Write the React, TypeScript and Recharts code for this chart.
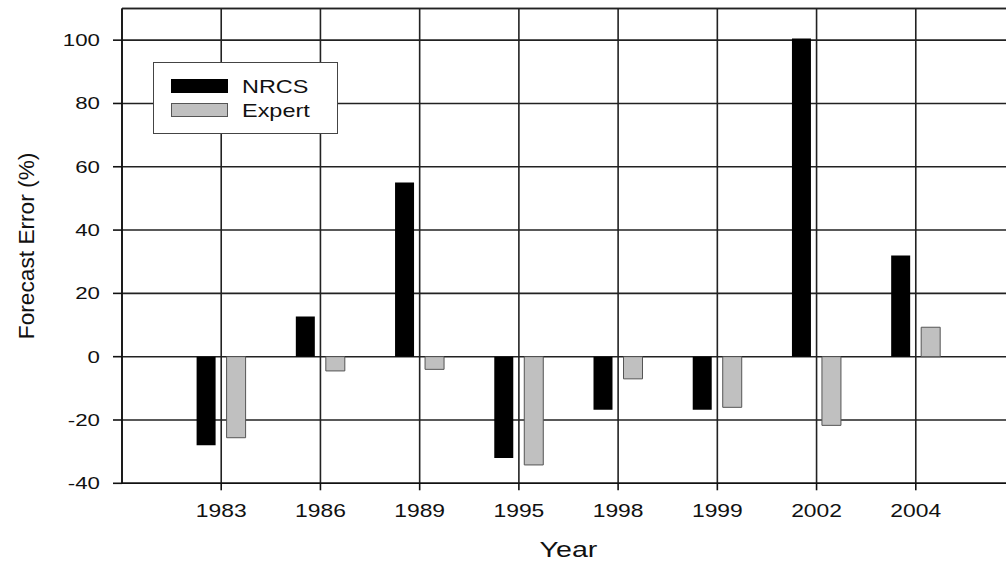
import React from 'react';
import {
  BarChart,
  Bar,
  XAxis,
  YAxis,
  CartesianGrid,
  ReferenceLine,
  Legend,
} from 'recharts';

const years = ['1983', '1986', '1989', '1995', '1998', '1999', '2002', '2004'];
const nrcsValues = [-28, 12.7, 55, -32, -16.8, -16.8, 100.5, 32];
const expertValues = [-25.6, -4.5, -4.0, -34.2, -7.0, -16.0, -21.7, 9.3];
const seriesNames = ['NRCS', 'Expert'];
const yTicks = [-40, -20, 0, 20, 40, 60, 80, 100];
const yDomain = [-40, 110];

const data = years.map((year, i) => ({
  year,
  NRCS: nrcsValues[i],
  Expert: expertValues[i],
}));

const FONT = '"Liberation Sans", Arial, Helvetica, sans-serif';

const YTick = (props: any) => {
  const { x, y, payload } = props;
  return (
    <text
      transform={`translate(${x},${y}) scale(1.35,1)`}
      textAnchor="end"
      dy={6}
      fontSize={16.5}
      fontFamily={FONT}
      fill="#111"
    >
      {payload.value}
    </text>
  );
};

const XTick = (props: any) => {
  const { x, y, payload } = props;
  return (
    <text
      transform={`translate(${x},${y}) scale(1.27,1)`}
      textAnchor="middle"
      dy={24.4}
      fontSize={18}
      fontFamily={FONT}
      fill="#111"
    >
      {payload.value}
    </text>
  );
};

const XLabel = (props: any) => {
  const vb = props.viewBox || {};
  const cx = (vb.x || 0) + (vb.width || 0) / 2;
  const by = (vb.y || 0) + 73.4;
  return (
    <text
      transform={`translate(${cx},${by}) scale(1.3,1)`}
      textAnchor="middle"
      fontSize={22}
      fontFamily={FONT}
      fill="#111"
    >
      Year
    </text>
  );
};

const YLabel = (props: any) => {
  const vb = props.viewBox || {};
  const cy = (vb.y || 0) + (vb.height || 0) / 2;
  const bx = 34;
  return (
    <text
      transform={`translate(${bx},${cy}) rotate(-90) scale(1,0.95)`}
      textAnchor="middle"
      fontSize={22.7}
      fontFamily={FONT}
      fill="#111"
    >
      Forecast Error (%)
    </text>
  );
};

const renderLegend = (props: any) => {
  const payload = [...(props.payload || [])].sort(
    (a: any, b: any) => seriesNames.indexOf(a.value) - seriesNames.indexOf(b.value)
  );
  return (
    <svg width={186} height={73} style={{ display: 'block' }}>
      <rect x={0.5} y={0.5} width={184} height={71} fill="#fff" stroke="#444" strokeWidth={1} />
      {payload.map((entry: any, i: number) => {
        const top = 17 + i * 24;
        const isExpert = entry.value === 'Expert';
        return (
          <g key={entry.value}>
            <rect
              x={18.5}
              y={top + 0.5}
              width={56}
              height={13}
              fill={entry.color}
              stroke={isExpert ? '#555' : '#000'}
              strokeWidth={1}
            />
            <text
              transform={`translate(89,${top + 13.5}) scale(1.34,1)`}
              fontSize={17.5}
              fontFamily={FONT}
              fill="#111"
            >
              {entry.value}
            </text>
          </g>
        );
      })}
    </svg>
  );
};

export default function App() {
  return (
    <div
      style={{
        position: 'absolute',
        left: 0,
        top: 0,
        width: 1006,
        height: 563,
        overflow: 'hidden',
        background: '#fff',
      }}
    >
      <BarChart
        width={1020}
        height={563}
        data={data}
        margin={{ top: 8.5, right: 5, left: 0, bottom: 39.7 }}
        barSize={19}
        barGap={11}
      >
        <CartesianGrid stroke="#222" strokeWidth={1.6} />
        <ReferenceLine y={110} stroke="#222" strokeWidth={1.6} ifOverflow="extendDomain" />
        <XAxis
          dataKey="year"
          padding={{ left: 49.6, right: 49.6 }}
          tickSize={7}
          tickMargin={2}
          height={40}
          stroke="#111"
          axisLine={{ stroke: '#111', strokeWidth: 1.6 }}
          tickLine={{ stroke: '#111', strokeWidth: 1.6 }}
          tick={<XTick />}
          interval={0}
          label={<XLabel />}
        />
        <YAxis
          domain={yDomain}
          ticks={yTicks}
          allowDataOverflow
          width={122}
          tickSize={9}
          tickMargin={13}
          axisLine={{ stroke: '#111', strokeWidth: 1.6 }}
          tickLine={{ stroke: '#111', strokeWidth: 1.6 }}
          tick={<YTick />}
          label={<YLabel />}
        />
        <Legend
          layout="vertical"
          align="center"
          verticalAlign="middle"
          content={renderLegend}
          wrapperStyle={{ position: 'absolute', left: 153, top: 62, width: 186, height: 73 }}
        />
        <Bar dataKey="NRCS" fill="#000000" isAnimationActive={false} />
        <Bar dataKey="Expert" fill="#c0c0c0" stroke="#555" strokeWidth={1} isAnimationActive={false} />
      </BarChart>
    </div>
  );
}
